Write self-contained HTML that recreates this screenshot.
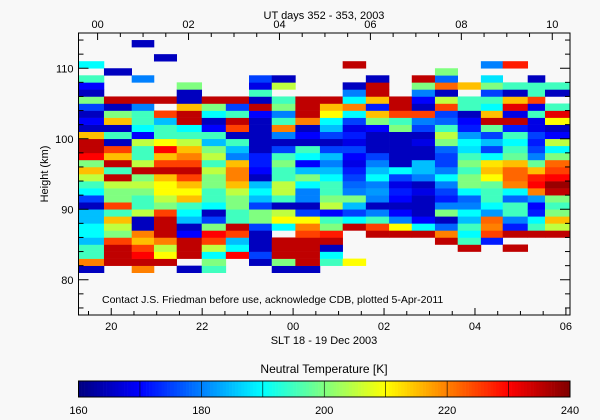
<!DOCTYPE html>
<html><head><meta charset="utf-8">
<style>
html,body{margin:0;padding:0;background:#f8f8f8;}
svg{display:block;font-family:"Liberation Sans",sans-serif;}
</style></head>
<body>
<svg id="chart" width="600" height="420" viewBox="0 0 600 420">
<rect x="0" y="0" width="600" height="420" fill="#f8f8f8"/>
<g id="cells"></g>
<g id="axes"></g>
<text x="102" y="303" font-size="10.5" fill="#000">Contact J.S. Friedman before use, acknowledge CDB, plotted 5-Apr-2011</text>
<text x="324" y="19" font-size="11" text-anchor="middle">UT days 352 - 353, 2003</text>
<text x="324" y="344" font-size="11" text-anchor="middle">SLT 18 - 19 Dec 2003</text>
<text x="0" y="0" font-size="11" text-anchor="middle" transform="translate(48,174) rotate(-90)">Height (km)</text>
<text x="324" y="373" font-size="12" text-anchor="middle">Neutral Temperature [K]</text>
<g id="cbar"></g>
</svg>
<script>
// column start times (SLT hours, >24 = next day) and final end
const colStart = [19.27,19.84,20.45,20.94,21.44,21.99,22.52,23.03,23.53,24.05,24.59,25.09,25.60,26.11,26.61,27.12,27.62,28.13,28.61,29.16,29.54];
const colEnd = 30.08;
// lowest altitude bin (km) of each column
const colBase = [81,82,81,82,81,81,83,82,81,81,82,82,86,86,86,85,84,85,84,86,86];
// temperatures (K) in 1-km bins, upward from colBase
const c01=[165,220,195,195,185,190,190,185,185,165,175,190,195,205,215,200,230,235,235,215,165,170,165,175,200,165,170,195,null,190];
const c02=[235,235,235,225,200,205,215,195,225,200,200,205,235,195,235,215,225,165,195,165,215,200,165,235,null,null,null,165];
const c03=[220,235,230,225,215,220,165,165,205,195,195,200,205,200,235,205,195,195,205,170,190,195,195,180,235,null,null,180,null,null,null,null,165];
const c04=[235,210,205,220,235,235,235,225,200,205,210,210,215,235,225,215,230,210,195,195,185,225,null,235,null,null,null,null,null,165];
const c05=[165,null,235,235,235,170,165,185,190,195,215,210,215,225,235,225,220,215,205,195,190,235,235,215,165,165,200];
const c06=[195,200,190,205,225,230,200,175,165,190,195,195,200,200,205,195,205,200,185,195,170,165,190,200,235];
const c07=[230,190,185,225,235,195,195,200,200,205,215,220,220,215,180,185,195,165,225,235,195,175,235];
const c08=[165,175,165,165,165,175,200,200,175,185,190,185,165,170,172,172,165,165,165,165,165,170,235,165,195,168,175];
const c09=[165,200,235,235,235,null,190,210,205,165,195,205,205,195,195,200,195,175,165,180,220,195,180,200,195,null,205,165];
const c10=[165,235,235,235,235,225,220,210,175,165,180,180,190,200,185,170,190,195,165,170,165,220,235,235,235];
const c11=[195,190,165,235,228,200,195,170,205,200,195,195,190,185,180,185,175,165,175,185,190,210,215,235];
const c12=[210,null,null,null,null,235,190,175,185,200,180,178,175,172,168,170,175,168,172,168,175,190,220,190,180,165,null,null,235];
const c13=[235,225,195,180,165,180,182,180,190,185,180,175,165,165,165,170,200,215,172,215,235,235,165];
const c14=[235,210,180,170,165,170,172,168,175,190,165,165,165,165,165,200,195,225,235,235];
const c15=[235,190,170,165,165,165,168,165,180,185,185,165,165,168,165,175,180,225,165,170,180,200,235];
const c16=[235,220,178,165,200,180,172,175,180,190,180,175,175,178,200,205,195,178,175,225,205,165,222,178,200];
const c17=[235,195,190,195,185,190,180,178,190,200,200,195,200,195,188,190,182,172,170,165,195,195,null,215];
const c18=[172,225,220,222,182,190,195,195,198,210,215,212,190,175,185,175,198,235,215,190,195,175,200,188,null,180];
const c19=[235,null,235,172,180,195,195,178,190,220,222,222,215,198,195,190,195,172,235,168,232,215,165,195,null,null,228];
const c20=[235,195,190,172,170,182,220,230,228,215,198,180,175,172,175,168,168,195,168,225,195,195,165];
const c21=[235,205,215,200,195,200,235,238,230,225,222,200,190,205,170,165,210,232,195,null,165,195];
const colVals=[c01,c02,c03,c04,c05,c06,c07,c08,c09,c10,c11,c12,c13,c14,c15,c16,c17,c18,c19,c20,c21];
const sltTicks=[20,22,24,26,28,30];
const sltLabels=["20","22","00","02","04","06"];
const utTicks=[0,2,4,6,8,10];
const utLabels=["00","02","04","06","08","10"];
const altTicks=[80,90,100,110];
const cbTicks=[160,180,200,220,240];

const NS="http://www.w3.org/2000/svg";
const X0=78.5,X1=570,T0=19.28,T1=30.09;
const Y0=315,Y1=33,A0=75,A1=115;
const UT_OFFSET=19.7;
const TMIN=160,TMAX=240;
const xs=t=>X0+(t-T0)*(X1-X0)/(T1-T0);
const ys=a=>Y0-(a-A0)*(Y0-Y1)/(A1-A0);
function jet(v){let t=(v-TMIN)/(TMAX-TMIN);t=Math.max(0,Math.min(1,t));
 const c=x=>Math.round(255*Math.max(0,Math.min(1,x)));
 return `rgb(${c(1.5-Math.abs(4*t-3))},${c(1.5-Math.abs(4*t-2))},${c(1.5-Math.abs(4*t-1))})`;}
function mk(tag,attrs,parent){const e=document.createElementNS(NS,tag);for(const k in attrs)e.setAttribute(k,attrs[k]);parent.appendChild(e);return e;}

const cells=document.getElementById('cells');
colVals.forEach((vals,ci)=>{
 const t0=colStart[ci],t1=ci+1<colStart.length?colStart[ci+1]:colEnd;
 vals.forEach((v,ri)=>{
  if(v===null)return;
  const a=colBase[ci]+ri;
  const r=mk('rect',{x:xs(t0),y:ys(a+1),width:xs(t1)-xs(t0)+0.3,height:ys(a)-ys(a+1)+0.3,fill:jet(v)},cells);
  
  
 });
});

const ax=document.getElementById('axes');
const frame=mk('rect',{x:X0,y:Y1,width:X1-X0,height:Y0-Y1,fill:'none',stroke:'#000','stroke-width':1},ax);


// bottom & top minor/major ticks
for(let t=19.5;t<=T1;t+=0.5){const x=xs(t);const maj=Math.abs(t/2-Math.round(t/2))<1e-6;const L=maj?7:4;
 const tk=mk('line',{x1:x,y1:Y0,x2:x,y2:Y0-L,stroke:'#000'},ax);
 
 }
sltTicks.forEach((t,i)=>{const lb=mk('text',{x:xs(t),y:Y0+15,'font-size':11,'text-anchor':'middle'},ax);lb.textContent=sltLabels[i];
 
 });
for(let u=-0.5;u<=10.5;u+=0.5){const t=u+UT_OFFSET;if(t<T0||t>T1)continue;const x=xs(t);const maj=Math.abs(u/2-Math.round(u/2))<1e-6;const L=maj?7:4;
 const tk=mk('line',{x1:x,y1:Y1,x2:x,y2:Y1+L,stroke:'#000'},ax);
 
 }
utTicks.forEach((u,i)=>{const lb=mk('text',{x:xs(u+UT_OFFSET),y:Y1-5,'font-size':11,'text-anchor':'middle'},ax);lb.textContent=utLabels[i];
 
 });
for(let a=76;a<=114;a+=2){const y=ys(a);const maj=a%10===0;const L=maj?10:5;
 const t1=mk('line',{x1:X0,y1:y,x2:X0+L,y2:y,stroke:'#000'},ax);
 
 
 const t2=mk('line',{x1:X1,y1:y,x2:X1-L,y2:y,stroke:'#000'},ax);
 
 }
altTicks.forEach(a=>{const lb=mk('text',{x:X0-5,y:ys(a)+4,'font-size':11,'text-anchor':'end'},ax);lb.textContent=a;
 
 });

// colorbar
const cb=document.getElementById('cbar');
const CX0=78.5,CX1=570,CY0=381,CY1=397;
const cx=v=>CX0+(v-TMIN)*(CX1-CX0)/(TMAX-TMIN);
for(let v=TMIN;v<TMAX;v+=0.5){const r=mk('rect',{x:cx(v),y:CY0,width:cx(v+0.5)-cx(v)+0.3,height:CY1-CY0,fill:jet(v+0.25)},cb);
 
 }
const cbf=mk('rect',{x:CX0,y:CY0,width:CX1-CX0,height:CY1-CY0,fill:'none',stroke:'#000'},cb);


for(let v=TMIN+10;v<TMAX;v+=10){const tk=mk('line',{x1:cx(v),y1:CY0,x2:cx(v),y2:CY1,stroke:'#000','stroke-width':0.6},cb);
 
 }
cbTicks.forEach(v=>{const lb=mk('text',{x:cx(v),y:CY1+17,'font-size':11,'text-anchor':'middle'},cb);lb.textContent=v;
 
 });
</script>
</body></html>
